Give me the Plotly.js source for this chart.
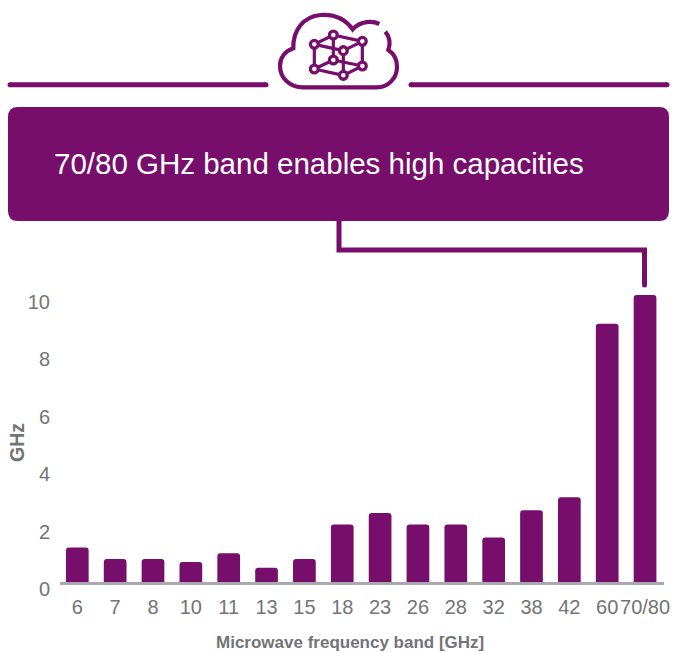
<!DOCTYPE html>
<html>
<head>
<meta charset="utf-8">
<script src="https://cdn.plot.ly/plotly-3.0.1.min.js"></script>
<style>html,body{margin:0;padding:0;background:#fff}</style>
</head>
<body>
<div id="chart" style="width:673px;height:653px"></div>
<script>
// Channel bandwidth available per microwave band
const bands = ['6','7','8','10','11','13','15','18','23','26','28','32','38','42','60','70/80'];
const bandwidthGHz = [1.2,0.8,0.8,0.7,1.0,0.5,0.8,2.0,2.4,2.0,2.0,1.55,2.5,2.95,9.0,10.0];
const yTicks = [0,2,4,6,8,10];

const PURPLE = '#770e6b';
const GREY = '#737477';
const W = 673, H = 653;

// Pixel helpers: with zero margins, paper space covers the whole page
const px = x => x / W;
const py = y => 1 - y / H;
const path = cmds => cmds.map(c => c[0] + ' ' + c.slice(1).map((v, i) => (i % 2 ? py(v) : px(v)).toFixed(5)).join(' ')).join(' ');
const stroke = (d, w, fill) => ({type:'path', xref:'paper', yref:'paper', path:d, line:{color:PURPLE, width:w}, fillcolor:fill || 'rgba(0,0,0,0)', layer:'above'});

// Header rules
const rules = [
  stroke(path([['M',10,84.7],['L',266,84.7]]), 5),
  stroke(path([['M',411,84.7],['L',667,84.7]]), 5)
];

// Round dots finish the rule ends
const dot = (x, y, r, fill, w) => ({type:'circle', xref:'paper', yref:'paper', x0:px(x-r), x1:px(x+r), y0:py(y+r), y1:py(y-r), fillcolor:fill, line:{color:PURPLE, width:w}, layer:'above'});
const ruleCaps = [dot(10,84.7,2.5,PURPLE,0), dot(266,84.7,2.5,PURPLE,0), dot(411,84.7,2.5,PURPLE,0), dot(667,84.7,2.5,PURPLE,0)];

// Cloud outline of the icon
const cx = x => 260 + x / 3, cy = y => y / 3;
const c3 = (...a) => a.map((v, i) => i % 2 ? cy(v) : cx(v));
const cloud = stroke(path([
  ['M',...c3(358,72)],
  ['C',...c3(338,62, 302,62, 278,88)],
  ['C',...c3(255,56, 222,42, 182,45)],
  ['C',...c3(130,49, 98,92, 100,145)],
  ['C',...c3(72,155, 60,176, 60,197)],
  ['C',...c3(60,235, 90,262, 130,262)],
  ['L',...c3(350,262)],
  ['C',...c3(385,262, 411,235, 411,200)],
  ['C',...c3(411,176, 400,160, 385,150)],
  ['C',...c3(392,130, 388,110, 376,95)]
]), 4.2);

// Cube network inside the cloud
const nodes = [[163,133],[220,105],[307,124],[250,152],[163,207],[220,180],[307,198],[250,226]];
const links = [[0,1],[1,2],[2,3],[3,0],[4,5],[5,6],[6,7],[7,4],[0,4],[1,5],[2,6],[3,7]];
const linkShapes = links.map(([a,b]) => stroke(path([['M',...c3(...nodes[a])],['L',...c3(...nodes[b])]]), 3.2));
const nodeShapes = nodes.map(([x,y]) => dot(cx(x), cy(y), 3.9, '#ffffff', 3.3));

// Banner with rounded corners, and the leader running to the last bar
const banner = stroke(path([
  ['M',18,107],['L',659,107],['Q',669,107,669,117],['L',669,211],['Q',669,221,659,221],
  ['L',18,221],['Q',8,221,8,211],['L',8,117],['Q',8,107,18,107],['Z']
]), 0, PURPLE);
const leader = stroke(path([['M',339,221],['L',339,250],['L',644.5,250],['L',644.5,285]]), 5);
const leaderCap = dot(644.5,285,2.5,PURPLE,0);

const plotLeft = 60, plotRight = 664, plotTop = 295, plotBottom = 582;
const step = 37.85, firstCentre = 77.3;

const trace = {
  type:'bar', x:bands, y:bandwidthGHz,
  marker:{color:PURPLE, cornerradius:3, line:{width:0}},
  width:0.6, hoverinfo:'x+y'
};

const layout = {
  width:W, height:H, showlegend:false,
  margin:{l:0,r:0,t:0,b:0,autoexpand:false},
  paper_bgcolor:'#ffffff', plot_bgcolor:'#ffffff',
  font:{family:'"Liberation Sans", Arial, sans-serif', color:GREY, size:20},
  xaxis:{
    type:'category', domain:[plotLeft/W, plotRight/W],
    range:[(plotLeft-firstCentre)/step, (plotRight-firstCentre)/step],
    showline:true, linecolor:'#a7a9ac', linewidth:3, showgrid:false, zeroline:false,
    ticks:'outside', ticklen:5, tickcolor:'rgba(0,0,0,0)', tickfont:{size:20, color:GREY},
    tickmode:'array', tickvals:bands, ticktext:bands, tickangle:0
  },
  yaxis:{
    domain:[1-plotBottom/H, 1-plotTop/H], range:[0,10],
    showline:false, showgrid:false, zeroline:false,
    ticks:'outside', ticklen:5, tickcolor:'rgba(0,0,0,0)', tickfont:{size:20, color:GREY},
    tickmode:'array', tickvals:yTicks, ticktext:yTicks.map(String), ticklabelshift:7
  },
  shapes:[banner, leader, leaderCap, ...rules, ...ruleCaps, cloud, ...linkShapes, ...nodeShapes],
  annotations:[
    {text:'70/80 GHz band enables high capacities', xref:'paper', yref:'paper', x:px(52), y:py(164), xanchor:'left', yanchor:'middle', showarrow:false, font:{size:29.5, color:'#ffffff'}},
    {text:'<b>Microwave frequency band [GHz]</b>', xref:'paper', yref:'paper', x:px(350), y:py(642), xanchor:'center', yanchor:'middle', showarrow:false, font:{size:17, color:GREY}},
    {text:'<b>GHz</b>', xref:'paper', yref:'paper', x:px(17), y:py(443), xanchor:'center', yanchor:'middle', textangle:-90, showarrow:false, font:{size:19.5, color:GREY}}
  ]
};

Plotly.newPlot('chart', [trace], layout, {displayModeBar:false, staticPlot:true});
</script>
</body>
</html>
